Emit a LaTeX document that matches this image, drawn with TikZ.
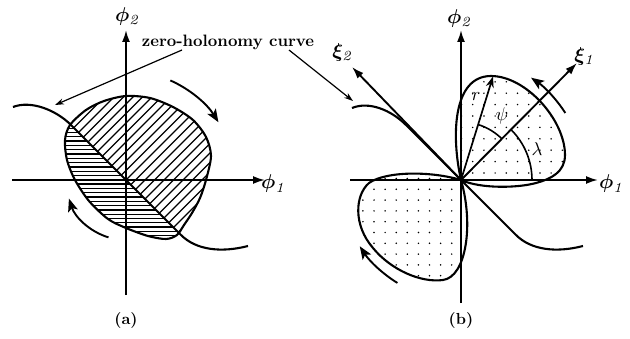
\documentclass[tikz,border=0pt]{standalone}
\usepackage{amsmath,bm}
\usetikzlibrary{arrows.meta}
\begin{document}
\begin{tikzpicture}[x=1pt,y=1pt,
  axisline/.style={line width=1.9pt,-{Latex[length=12pt,width=8pt]}},
  outline/.style={line width=2.1pt},
  hatchline/.style={line width=1.25pt},
  thinarc/.style={line width=1.6pt},
  rot/.style={line width=1.9pt,-{Stealth[length=13pt,width=10pt,inset=3pt]}},
  leader/.style={line width=1.2pt,-{Stealth[length=9pt,width=6pt]}},
  mathlbl/.style={inner sep=0pt,scale=2.0},
  smalllbl/.style={inner sep=0pt,scale=1.85},
  dotfill/.style={fill=black},
]
\useasboundingbox (0,0) rectangle (630,338);

% ---------------- panel (a) ----------------
\begin{scope}[shift={(126,158)}]
\coordinate (Oa) at (0,0);
\coordinate (a-vb) at (0,-115); \coordinate (a-vt) at (0,150);
\coordinate (a-hl) at (-114,0); \coordinate (a-hr) at (139,0);
\begin{scope}
  \clip plot[smooth cycle] coordinates {(0,84) (-22,79) (-40,70) (-56,55) (-61,40) (-59,20) (-51,0) (-37,-21) (-18,-39) (0,-48) (22,-56) (40,-59) (51,-55) (58,-45) (66,-33) (74,-18) (80,0) (85,24) (80,43) (67,60) (47,73) (24,82)};
  \begin{scope}
    \clip (-200,200) -- (200,-200) -- (200,200) -- cycle;
    \foreach \i in {-17,...,17} \draw[hatchline] (\i*9.5-130,-130) -- ++(260,260);
  \end{scope}
  \clip (-200,200) -- (200,-200) -- (-200,-200) -- cycle;
  \foreach \j in {0,...,34} \draw[hatchline] (-100,-60+\j*4.3) -- (100,-60+\j*4.3);
\end{scope}
\draw[outline] plot[smooth cycle] coordinates {(0,84) (-22,79) (-40,70) (-56,55) (-61,40) (-59,20) (-51,0) (-37,-21) (-18,-39) (0,-48) (22,-56) (40,-59) (51,-55) (58,-45) (66,-33) (74,-18) (80,0) (85,24) (80,43) (67,60) (47,73) (24,82)};
\draw[axisline] (a-vb) -- (a-vt);
\draw[axisline] (a-hl) -- (a-hr);
\draw[outline] (-113,73) .. controls (-95,80) and (-70,70) .. (-55,55) -- (55,-55) .. controls (70,-70) and (95,-73) .. (122,-66);
\draw[rot] (66:109) arc[start angle=66,end angle=32,radius=109];
\draw[rot] (-107:60) arc[start angle=-107,end angle=-162,radius=60];
\node[mathlbl] (a-phi2) at (2,163) {$\bm{\phi}_{\mathit{2}}$};
\node[mathlbl] (a-phi1) at (148,-4) {$\bm{\phi}_{\mathit{1}}$};
\end{scope}

% ---------------- panel (b) ----------------
\begin{scope}[shift={(461,158)}]
\coordinate (Ob) at (0,0);
\coordinate (b-vb) at (0,-123); \coordinate (b-vt) at (0,150);
\coordinate (b-hl) at (-111,0); \coordinate (b-hr) at (137,0);
\coordinate (b-x1) at (116,117); \coordinate (b-x2) at (-109,113);
\coordinate (b-r) at (32,103.5);
% dots upper petal
\begin{scope}
  \clip (0,0) .. controls (-10,45) and (-8,104) .. (30,104) .. controls (65,104) and (104,60) .. (104,25) .. controls (104,8) and (90,1) .. (75,-3) .. controls (57,-8) and (20,-9) .. (0,0);
  \foreach \i in {0,...,10} \foreach \j in {0,...,9}
    \fill[dotfill] (\i*11.2+0.5,\j*11.4+7) circle[radius=0.85];
\end{scope}
% dots lower petal
\begin{scope}
  \clip (0,0) .. controls (-30,9) and (-75,9) .. (-92,-3) .. controls (-106,-15) and (-108,-45) .. (-88,-68) .. controls (-70,-90) and (-40,-103) .. (-18,-100) .. controls (5,-97) and (13,-45) .. (0,0);
  \foreach \i in {0,...,9} \foreach \j in {0,...,9}
    \fill[dotfill] (-9.3-\i*11.1,1.5-\j*10.8) circle[radius=0.85];
\end{scope}
\draw[outline] (0,0) .. controls (-10,45) and (-8,104) .. (30,104) .. controls (65,104) and (104,60) .. (104,25) .. controls (104,8) and (90,1) .. (75,-3) .. controls (57,-8) and (20,-9) .. (0,0);
\draw[outline] (0,0) .. controls (-30,9) and (-75,9) .. (-92,-3) .. controls (-106,-15) and (-108,-45) .. (-88,-68) .. controls (-70,-90) and (-40,-103) .. (-18,-100) .. controls (5,-97) and (13,-45) .. (0,0);
\draw[axisline] (b-vb) -- (b-vt);
\draw[axisline] (b-hl) -- (b-hr);
\draw[axisline] (Ob) -- (b-x1);
\draw[axisline] (Ob) -- (b-x2);
\draw[outline] (-109,72) .. controls (-92,79) and (-70,70) .. (-55,55) -- (55,-55) .. controls (70,-70) and (95,-73) .. (122,-66);
\draw[line width=1.7pt,-{Stealth[length=11pt,width=8pt]}] (Ob) -- (b-r);
\draw[thinarc] (45:58) arc[start angle=45,end angle=72.7,radius=58];
\draw[thinarc] (0:71) arc[start angle=0,end angle=45,radius=71];
\draw[rot] (32.7:124) arc[start angle=32.7,end angle=55.6,radius=124];
\draw[rot] (-121.7:121) arc[start angle=-121.7,end angle=-146.8,radius=121];
\node[mathlbl] (b-phi2) at (-1,161) {$\bm{\phi}_{\mathit{2}}$};
\node[mathlbl] (b-phi1) at (151,-4) {$\bm{\phi}_{\mathit{1}}$};
\node[mathlbl] (b-xi2) at (-118,127) {$\bm{\xi}_{\mathit{2}}$};
\node[mathlbl] (b-xi1) at (124,123) {$\bm{\xi}_{\mathit{1}}$};
\node[smalllbl] (b-rl) at (15,83) {$r$};
\node[smalllbl] (b-psi) at (41,64) {$\psi$};
\node[smalllbl] (b-lam) at (76,31) {$\lambda$};
\end{scope}

% ---------------- common labels ----------------
\node[inner sep=0pt,anchor=base,scale=1.65,font=\bfseries] (zh) at (228,291) {zero-holonomy curve};
\coordinate (zh-ls) at (182,288); \coordinate (zh-lt) at (55,233);
\coordinate (zh-rs) at (289,288); \coordinate (zh-rt) at (353,237);
\draw[leader] (zh-ls) -- (zh-lt);
\draw[leader] (zh-rs) -- (zh-rt);
\node[inner sep=0pt,scale=1.6,font=\bfseries] (lab-a) at (126,18) {(a)};
\node[inner sep=0pt,scale=1.6,font=\bfseries] (lab-b) at (461,18) {(b)};
\end{tikzpicture}
\end{document}
